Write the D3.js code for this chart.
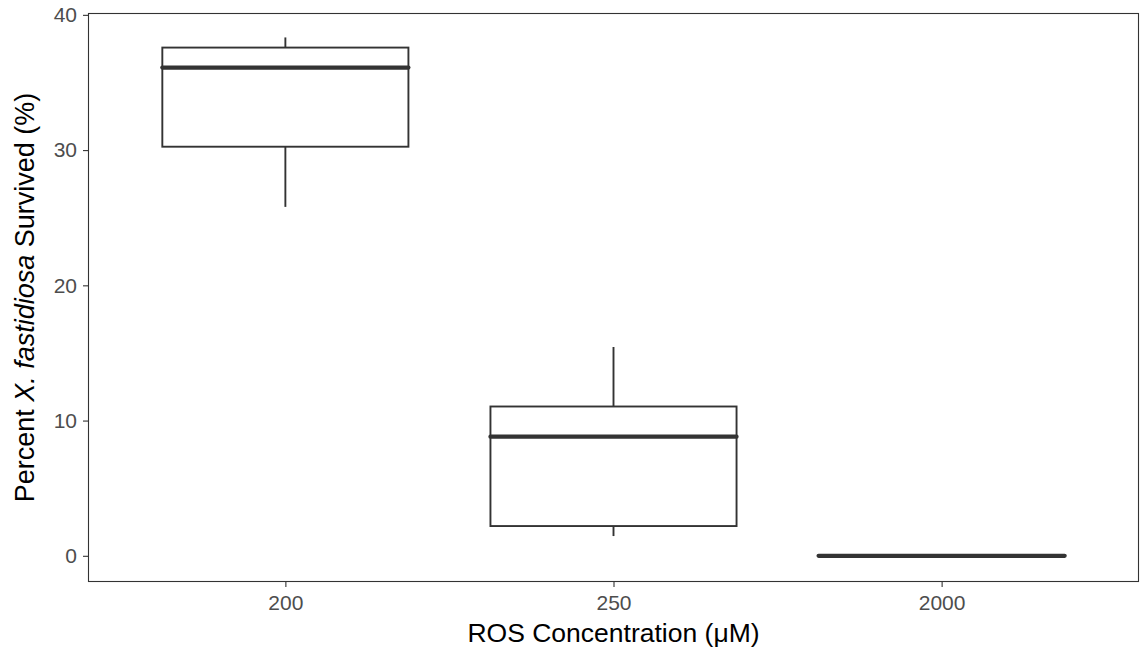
<!DOCTYPE html>
<style>
body { margin: 0; background: #fff; }
</style>
<svg width="1143" height="652" font-family="Liberation Sans, Arial, sans-serif"></svg>
<script src="https://d3js.org/d3.v7.min.js"></script>
<script>

// data
const groups = ['200', '250', '2000'];
const lower = [25.8, 1.46, 0];
const q1 = [30.25, 2.2, 0];
const median = [36.1, 8.81, 0];
const q3 = [37.58, 11.04, 0];
const upper = [38.33, 15.44, 0];
const yTicks = [0, 10, 20, 30, 40];

const svg = d3.select('svg');
const margin = {top: 13.5, right: 4.5, bottom: 70.5, left: 88.5};
const width = 1143 - margin.left - margin.right,
	height = 652 - margin.top - margin.bottom;

const x = d3.scalePoint()
	.domain(groups)
	.range([0, width])
	.padding(0.6);

const y = d3.scaleLinear()
	.domain([-1.9, 40.1])
	.range([height, 0]);

const boxW = x.step() * 0.75;

const g = svg.append('g')
	.attr('transform', `translate(${margin.left},${margin.top})`);

// axes
const yAxis = g.append('g')
	.call(d3.axisLeft(y).tickValues(yTicks).tickSize(5.5).tickPadding(6));
const xAxis = g.append('g')
	.attr('transform', `translate(0,${height})`)
	.call(d3.axisBottom(x).tickSize(5.5).tickPadding(8.5));

[xAxis, yAxis].forEach((ax) => {
	ax.select('.domain').remove();
	ax.selectAll('line').attr('stroke', '#333').attr('stroke-width', 1.1);
	ax.selectAll('text')
		.attr('fill', '#4d4d4d')
		.attr('font-size', 21)
		.attr('font-family', 'Liberation Sans, Arial, sans-serif');
});

const rows = groups.map((d, i) => ({
	key: d, lower: lower[i], q1: q1[i], median: median[i], q3: q3[i], upper: upper[i]
}));

const box = g.selectAll('.box')
	.data(rows)
	.enter().append('g')
	.attr('class', 'box')
	.attr('transform', (d) => `translate(${x(d.key)},0)`);

box.append('line')
	.attr('y1', (d) => y(d.upper))
	.attr('y2', (d) => y(d.q3))
	.attr('stroke', '#333').attr('stroke-width', 1.9);
box.append('line')
	.attr('y1', (d) => y(d.q1))
	.attr('y2', (d) => y(d.lower))
	.attr('stroke', '#333').attr('stroke-width', 1.9);

box.append('rect')
	.attr('x', -boxW / 2)
	.attr('width', boxW)
	.attr('y', (d) => y(d.q3))
	.attr('height', (d) => y(d.q1) - y(d.q3))
	.attr('fill', '#fff')
	.attr('stroke', '#333')
	.attr('stroke-width', 1.9);

box.append('line')
	.attr('x1', -boxW / 2)
	.attr('x2', boxW / 2)
	.attr('y1', (d) => y(d.median))
	.attr('y2', (d) => y(d.median))
	.attr('stroke', '#333')
	.attr('stroke-width', 4.2)
	.attr('stroke-linecap', 'round');

// panel border
g.append('rect')
	.attr('width', width)
	.attr('height', height)
	.attr('fill', 'none')
	.attr('stroke', '#333')
	.attr('stroke-width', 1.1);

// titles
svg.append('text')
	.attr('x', margin.left + width / 2)
	.attr('y', 642)
	.attr('text-anchor', 'middle')
	.attr('font-size', 26.5)
	.attr('fill', '#000')
	.text('ROS Concentration (μM)');

const yt = svg.append('text')
	.attr('transform', `translate(34,${margin.top + height / 2}) rotate(-90)`)
	.attr('text-anchor', 'middle')
	.attr('font-size', 27)
	.attr('fill', '#000');
yt.append('tspan').text('Percent ');
yt.append('tspan').attr('font-style', 'italic').text('X. fastidiosa');
yt.append('tspan').text(' Survived (%)');

</script>
